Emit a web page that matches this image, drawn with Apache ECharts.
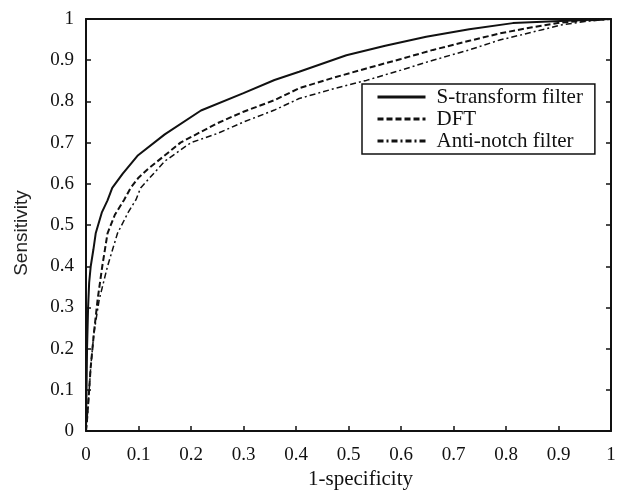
<!DOCTYPE html>
<html>
<head>
<meta charset="utf-8">
<script src="https://cdn.jsdelivr.net/npm/echarts@6/dist/echarts.min.js"></script>
<style>
html,body{margin:0;padding:0;background:#fff;}
#c{width:623px;height:495px;}
</style>
</head>
<body>
<div id="c"></div>
<script>
var seriesNames = ['S-transform filter', 'DFT', 'Anti-notch filter'];
var xTicks = [0, 0.1, 0.2, 0.3, 0.4, 0.5, 0.6, 0.7, 0.8, 0.9, 1];
var yTicks = [0, 0.1, 0.2, 0.3, 0.4, 0.5, 0.6, 0.7, 0.8, 0.9, 1];

var sTransform = [
  [0,0],[0.001,0.1],[0.002,0.2],[0.004,0.3],[0.006,0.36],[0.009,0.40],[0.014,0.44],
  [0.0185,0.48],[0.03,0.53],[0.041,0.56],[0.05,0.59],[0.07,0.625],[0.098,0.668],
  [0.15,0.72],[0.219,0.778],[0.3,0.82],[0.359,0.852],[0.406,0.872],[0.496,0.912],
  [0.57,0.935],[0.648,0.957],[0.73,0.975],[0.813,0.99],[0.915,0.996],[1,1]
];
var dft = [
  [0,0],[0.0025,0.035],[0.006,0.1],[0.009,0.156],[0.015,0.237],[0.022,0.318],
  [0.031,0.40],[0.041,0.48],[0.055,0.525],[0.0725,0.561],[0.085,0.59],[0.1,0.615],
  [0.117,0.635],[0.18,0.70],[0.25,0.747],[0.3,0.775],[0.359,0.803],[0.406,0.832],
  [0.47,0.857],[0.534,0.880],[0.6,0.903],[0.661,0.925],[0.73,0.947],[0.788,0.965],
  [0.85,0.98],[0.903,0.991],[0.95,0.996],[1,1]
];
var antiNotch = [
  [0,0],[0.002,0.03],[0.004,0.06],[0.009,0.156],[0.015,0.237],[0.025,0.318],
  [0.041,0.40],[0.06,0.48],[0.08,0.53],[0.095,0.561],[0.104,0.59],[0.15,0.655],
  [0.2,0.70],[0.25,0.722],[0.3,0.75],[0.359,0.779],[0.406,0.807],[0.47,0.83],
  [0.534,0.851],[0.6,0.876],[0.661,0.900],[0.73,0.925],[0.788,0.949],[0.85,0.968],
  [0.903,0.985],[0.95,0.994],[1,1]
];

var serif = "'Liberation Serif','Times New Roman',serif";
var sans = "'Liberation Sans Narrow','Liberation Sans',Arial,sans-serif";
var axisLine = {show:true, onZero:false, lineStyle:{color:'#111', width:2}};

var chart = echarts.init(document.getElementById('c'));
chart.setOption({
  animation:false,
  backgroundColor:'#fff',
  grid:{left:86, right:12, top:19, bottom:63},
  legend:{
    show:true,
    orient:'vertical', left:362, top:84,
    padding:[2,12,2,14],
    borderColor:'#111', borderWidth:1.5,
    itemWidth:48, itemHeight:14, itemGap:0,
    itemStyle:{opacity:0},
    lineStyle:{width:3},
    textStyle:{fontFamily:serif, fontSize:21, lineHeight:22, color:'#111', padding:[0,0,0,6]},
    data:seriesNames
  },
  xAxis:[{
    type:'value', min:xTicks[0], max:xTicks[xTicks.length-1], interval:0.1,
    position:'bottom',
    name:'1-specificity', nameLocation:'middle', nameGap:36,
    nameTextStyle:{fontFamily:serif, fontSize:21, color:'#111', padding:[0,0,0,24]},
    axisLine:axisLine,
    axisTick:{show:true, inside:true, length:5, lineStyle:{color:'#111', width:1.5}},
    axisLabel:{fontFamily:serif, fontSize:19, color:'#111', margin:14},
    splitLine:{show:false}
  },{
    type:'value', min:0, max:1, position:'top',
    axisLine:axisLine, axisTick:{show:false}, axisLabel:{show:false}, splitLine:{show:false}
  }],
  yAxis:[{
    type:'value', min:yTicks[0], max:yTicks[yTicks.length-1], interval:0.1,
    position:'left',
    name:'Sensitivity', nameLocation:'middle', nameGap:55,
    nameTextStyle:{fontFamily:sans, fontSize:19, color:'#222', padding:[0,16,0,0]},
    axisLine:axisLine,
    axisTick:{show:true, inside:true, length:5, lineStyle:{color:'#111', width:1.5}},
    axisLabel:{fontFamily:serif, fontSize:19, color:'#111', margin:12},
    splitLine:{show:false}
  },{
    type:'value', min:0, max:1, interval:0.1, position:'right',
    axisLine:axisLine,
    axisTick:{show:true, inside:true, length:5, lineStyle:{color:'#111', width:1.5}},
    axisLabel:{show:false}, splitLine:{show:false}
  }],
  series:[{
    name:seriesNames[0], type:'line', data:sTransform, symbol:'none', smooth:false,
    lineStyle:{color:'#111', width:2, type:'solid'}, itemStyle:{color:'#111'}
  },{
    name:seriesNames[1], type:'line', data:dft, symbol:'none',
    lineStyle:{color:'#111', width:2, type:[6,3]}, itemStyle:{color:'#111'}
  },{
    name:seriesNames[2], type:'line', data:antiNotch, symbol:'none',
    lineStyle:{color:'#111', width:1.5, type:[6,3,2,3]}, itemStyle:{color:'#111'}
  }]
});
</script>
</body>
</html>
